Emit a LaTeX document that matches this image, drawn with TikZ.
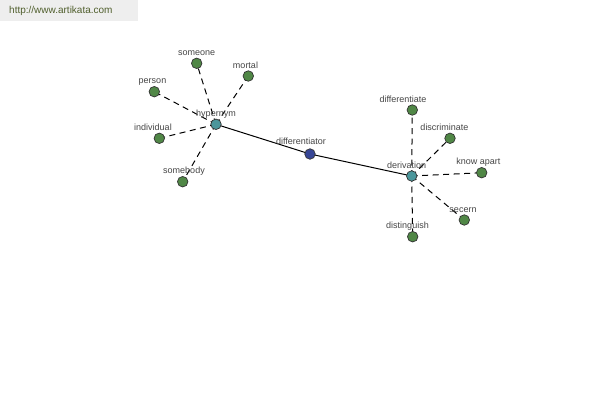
\documentclass[tikz,border=0pt]{standalone}
\usepackage{fontspec}
\setmainfont{Liberation Sans}
\usetikzlibrary{backgrounds}
\definecolor{dotgreen}{RGB}{80,135,70}
\definecolor{dotteal}{RGB}{75,150,155}
\definecolor{dotblue}{RGB}{55,70,150}
\definecolor{lblgray}{RGB}{70,70,70}
\definecolor{hdrgray}{RGB}{238,238,238}
\definecolor{urlgreen}{RGB}{80,95,45}
\begin{document}
\begin{tikzpicture}[x=1pt,y=-1pt,
  dot/.style={circle,draw=black!80,line width=0.7pt,minimum size=10.5pt,inner sep=0pt},
  gdot/.style={dot,fill=dotgreen},
  tdot/.style={dot,fill=dotteal},
  bdot/.style={dot,fill=dotblue},
  lbl/.style={anchor=base,inner sep=0pt,text=lblgray,font=\fontsize{9}{9}\selectfont},
  dashline/.style={line width=1pt,dash pattern=on 6pt off 4.5pt},
  solidline/.style={line width=1pt}]
\useasboundingbox (0,0) rectangle (600,400);
\begin{scope}[on background layer]
\fill[white] (0,0) rectangle (600,400);
\fill[hdrgray] (0,0) rectangle (138,21);
\end{scope}
\node[anchor=west,inner sep=0pt,text=urlgreen,font=\fontsize{10}{10}\selectfont] (url) at (9,11) {http://www.artikata.com};

\node[tdot] (hyp) at (216,124.3) {};
\node[bdot] (dif) at (310,154) {};
\node[tdot] (der) at (411.7,176) {};

\node[gdot] (someone) at (196.7,63.3) {};
\node[gdot] (mortal) at (248.3,76) {};
\node[gdot] (person) at (154.3,91.7) {};
\node[gdot] (individual) at (159.3,138.3) {};
\node[gdot] (somebody) at (182.7,181.7) {};

\node[gdot] (differentiate) at (412.3,110) {};
\node[gdot] (discriminate) at (450,138.3) {};
\node[gdot] (knowapart) at (481.7,172.7) {};
\node[gdot] (secern) at (464.3,220) {};
\node[gdot] (distinguish) at (412.7,236.7) {};

\begin{scope}[on background layer]
\draw[solidline] (hyp.center) -- (dif.center);
\draw[solidline] (dif.center) -- (der.center);
\foreach \n in {someone,mortal,person,individual,somebody}
  \draw[dashline] (hyp.center) -- (\n.center);
\foreach \n in {differentiate,discriminate,knowapart,secern,distinguish}
  \draw[dashline] (der.center) -- (\n.center);
\end{scope}

% labels
\node[lbl] (l-someone) at (196.7,55.5) {someone};
\node[lbl] (l-mortal) at (245.5,68) {mortal};
\node[lbl] (l-person) at (152.5,83.5) {person};
\node[lbl] (l-hyp) at (216,116) {hypernym};
\node[lbl] (l-individual) at (153,130) {individual};
\node[lbl] (l-somebody) at (184,173.5) {somebody};
\node[lbl] (l-dif) at (301,144.5) {differentiator};
\node[lbl] (l-differentiate) at (403,102) {differentiate};
\node[lbl] (l-discriminate) at (444.5,130) {discriminate};
\node[lbl] (l-der) at (406.7,168) {derivation};
\node[lbl] (l-knowapart) at (478.3,164.5) {know apart};
\node[lbl] (l-secern) at (463,212) {secern};
\node[lbl] (l-distinguish) at (407.5,228.5) {distinguish};
\end{tikzpicture}
\end{document}
